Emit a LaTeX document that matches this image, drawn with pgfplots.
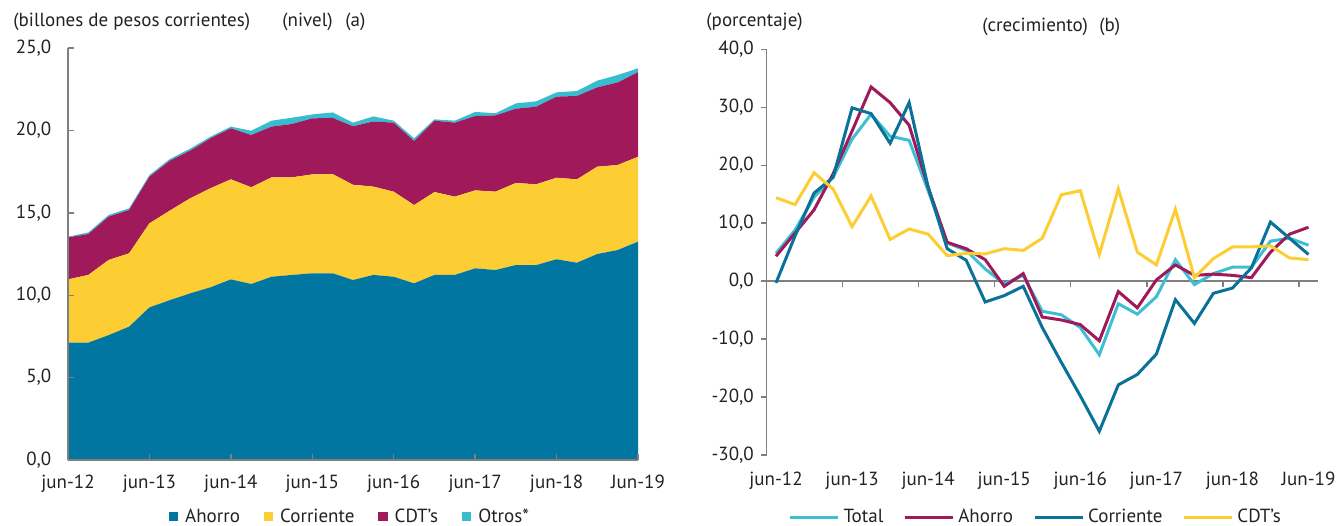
\documentclass[border=0pt]{standalone}
\usepackage{fontspec}
\setmainfont{PT Sans}
\usepackage{pgfplots}
\pgfplotsset{compat=1.18}
\usepackage{pgfplotstable}

\definecolor{ablue}{HTML}{0076A0}
\definecolor{cyel}{HTML}{FCCE33}
\definecolor{dmag}{HTML}{A0195A}
\definecolor{ocyan}{HTML}{38BCCF}
\definecolor{tcyan}{HTML}{3DBFD3}
\definecolor{cblue}{HTML}{0A7199}
\definecolor{axgray}{HTML}{7F7F7F}
\definecolor{txt}{HTML}{222222}

\pgfplotstableread{
x A C D O
0 7.12 3.84 2.55 0.04
1 7.12 4.11 2.48 0.10
2 7.58 4.56 2.63 0.10
3 8.09 4.45 2.63 0.10
4 9.26 5.10 2.83 0.10
5 9.70 5.43 3.03 0.10
6 10.11 5.77 2.89 0.12
7 10.48 6.01 3.03 0.10
8 10.96 6.07 3.10 0.10
9 10.68 5.87 3.17 0.26
10 11.12 6.03 3.08 0.36
11 11.23 5.92 3.24 0.38
12 11.33 6.00 3.40 0.24
13 11.33 6.02 3.41 0.33
14 10.92 5.78 3.55 0.22
15 11.23 5.36 3.95 0.31
16 11.12 5.16 4.19 0.12
17 10.72 4.75 3.89 0.16
18 11.23 5.03 4.33 0.08
19 11.23 4.75 4.49 0.12
20 11.63 4.73 4.51 0.25
21 11.53 4.75 4.63 0.13
22 11.83 4.98 4.51 0.32
23 11.83 4.90 4.71 0.32
24 12.18 4.95 4.92 0.26
25 11.97 5.06 5.06 0.30
26 12.50 5.30 4.81 0.41
27 12.74 5.16 5.01 0.45
28 13.25 5.15 5.13 0.24
}\levels

\pgfplotstableread{
x T A C D
0 4.8 4.3 -0.3 14.4
1 8.8 8.3 7.8 13.2
2 14.5 12.3 15.2 18.7
3 17.9 18.5 17.9 15.9
4 24.5 25.9 29.9 9.4
5 28.8 33.5 28.9 14.7
6 25.0 30.8 23.8 7.2
7 24.3 26.9 30.8 9.0
8 15.6 16.2 16.2 8.1
9 6.6 6.7 5.6 4.4
10 5.3 5.6 3.6 4.8
11 2.1 3.7 -3.6 4.7
12 -0.5 -0.9 -2.5 5.6
13 1.0 1.3 -0.9 5.3
14 -5.2 -6.2 -8.0 7.4
15 -5.8 -6.7 -14.0 14.9
16 -8.0 -7.5 -19.8 15.6
17 -12.7 -10.3 -25.9 4.6
18 -3.9 -1.8 -17.9 15.9
19 -5.7 -4.6 -16.1 5.0
20 -2.7 0.2 -12.6 2.8
21 3.7 2.8 -3.2 12.4
22 -0.6 1.0 -7.3 0.6
23 1.3 1.2 -2.1 3.9
24 2.4 1.0 -1.2 5.9
25 2.4 0.6 2.3 5.9
26 6.9 5.0 10.2 6.1
27 7.4 8.1 7.4 4.0
28 6.2 9.3 4.6 3.7
}\growth

\pgfplotsset{
  numfmt/.style={/pgf/number format/fixed, /pgf/number format/fixed zerofill, /pgf/number format/precision=1, /pgf/number format/use comma, /pgf/number format/assume math mode=true},
}

\begin{document}
\fontsize{9.5pt}{11.5pt}\selectfont
\color{txt}
\begin{tikzpicture}
\useasboundingbox (0,0) rectangle (669pt,262.5pt);

% titles
\node[anchor=west, inner sep=0pt, text=txt] at (6.5pt,251.5pt) {(billones de pesos corrientes)};
\node[anchor=west, inner sep=0pt, text=txt] at (141pt,251.5pt) {(nivel)};
\node[anchor=west, inner sep=0pt, text=txt] at (172.5pt,251.5pt) {(a)};
\node[anchor=west, inner sep=0pt, text=txt] at (353pt,251.5pt) {(porcentaje)};
\node[anchor=west, inner sep=0pt, text=txt] at (491pt,249pt) {(crecimiento)};
\node[anchor=west, inner sep=0pt, text=txt] at (549.5pt,249pt) {(b)};

\begin{axis}[
  at={(34pt,32.5pt)}, anchor=south west,
  scale only axis, width=285pt, height=206pt,
  xmin=0, xmax=28, ymin=0, ymax=25,
  axis lines*=left, axis line style={axgray, line width=0.7pt, -},
  axis on top,
  tick align=inside, major tick length=3pt,
  tick style={axgray, line width=0.7pt},
  xtick={0,4,...,28},
  xticklabels={jun-12,jun-13,jun-14,jun-15,jun-16,jun-17,jun-18,Jun-19},
  x tick label style={yshift=-4pt, text=txt},
  ytick={0,5,...,25},
  y tick label style={numfmt, xshift=-5pt, text=txt},
  stack plots=y,
  legend columns=4,
  legend style={draw=none, fill=none, at={(0.4965,-0.138)}, anchor=center,
    /tikz/every even column/.append style={column sep=10pt}, text=txt,
    inner sep=0pt, outer sep=0pt},
  legend cell align=left,
  legend image code/.code={\fill[#1] (0pt,-2.3pt) rectangle (4.6pt,2.3pt);},
]
\addplot[fill=ablue, draw=none] table[x=x, y=A] {\levels} \closedcycle;
\addlegendentry{\hspace{1.5pt}Ahorro}
\addplot[fill=cyel, draw=none] table[x=x, y=C] {\levels} \closedcycle;
\addlegendentry{\hspace{1.5pt}Corriente}
\addplot[fill=dmag, draw=none] table[x=x, y=D] {\levels} \closedcycle;
\addlegendentry{\hspace{1.5pt}CDT's}
\addplot[fill=ocyan, draw=none] table[x=x, y=O] {\levels} \closedcycle;
\addlegendentry{\hspace{1.5pt}Otros*}
\end{axis}

\begin{axis}[
  at={(383.25pt,35pt)}, anchor=south west,
  scale only axis, width=275.75pt, height=202.85pt,
  xmin=-0.5, xmax=28.5, ymin=-30, ymax=40,
  axis lines*=left, axis line style={axgray, line width=0.7pt, -},
  x axis line style={draw=none},
  tick align=outside, major tick length=3pt,
  tick style={axgray, line width=0.7pt},
  xtick={0,4,...,28}, xtick style={draw=none},
  xticklabels={jun-12,jun-13,jun-14,jun-15,jun-16,jun-17,jun-18,Jun-19},
  x tick label style={yshift=-2pt, text=txt},
  ytick={-30,-20,...,40},
  y tick label style={numfmt, text=txt},
  extra y ticks={0}, extra y tick labels={},
  extra y tick style={grid=major, major grid style={axgray, line width=0.8pt}, tick style={draw=none}},
  legend columns=4,
  legend style={draw=none, fill=none, at={(0.49,-0.153)}, anchor=center,
    /tikz/every even column/.append style={column sep=8pt}, text=txt,
    inner sep=0pt, outer sep=0pt},
  legend image code/.code={\draw[#1] (0pt,0pt) -- (24pt,0pt);},
  clip=false,
]
\draw[axgray, line width=0.7pt] (axis cs:3.5,0) -- ++(0pt,-3pt);
\draw[axgray, line width=0.7pt] (axis cs:7.5,0) -- ++(0pt,-3pt);
\draw[axgray, line width=0.7pt] (axis cs:11.5,0) -- ++(0pt,-3pt);
\draw[axgray, line width=0.7pt] (axis cs:15.5,0) -- ++(0pt,-3pt);
\draw[axgray, line width=0.7pt] (axis cs:19.5,0) -- ++(0pt,-3pt);
\draw[axgray, line width=0.7pt] (axis cs:23.5,0) -- ++(0pt,-3pt);
\draw[axgray, line width=0.7pt] (axis cs:27.5,0) -- ++(0pt,-3pt);
\addplot[tcyan, line width=1.5pt] table[x=x, y=T] {\growth};
\addlegendentry{Total}
\addplot[dmag, line width=1.5pt] table[x=x, y=A] {\growth};
\addlegendentry{Ahorro}
\addplot[cblue, line width=1.5pt] table[x=x, y=C] {\growth};
\addlegendentry{Corriente}
\addplot[cyel, line width=1.5pt] table[x=x, y=D] {\growth};
\addlegendentry{CDT's}
\end{axis}
\end{tikzpicture}
\end{document}
